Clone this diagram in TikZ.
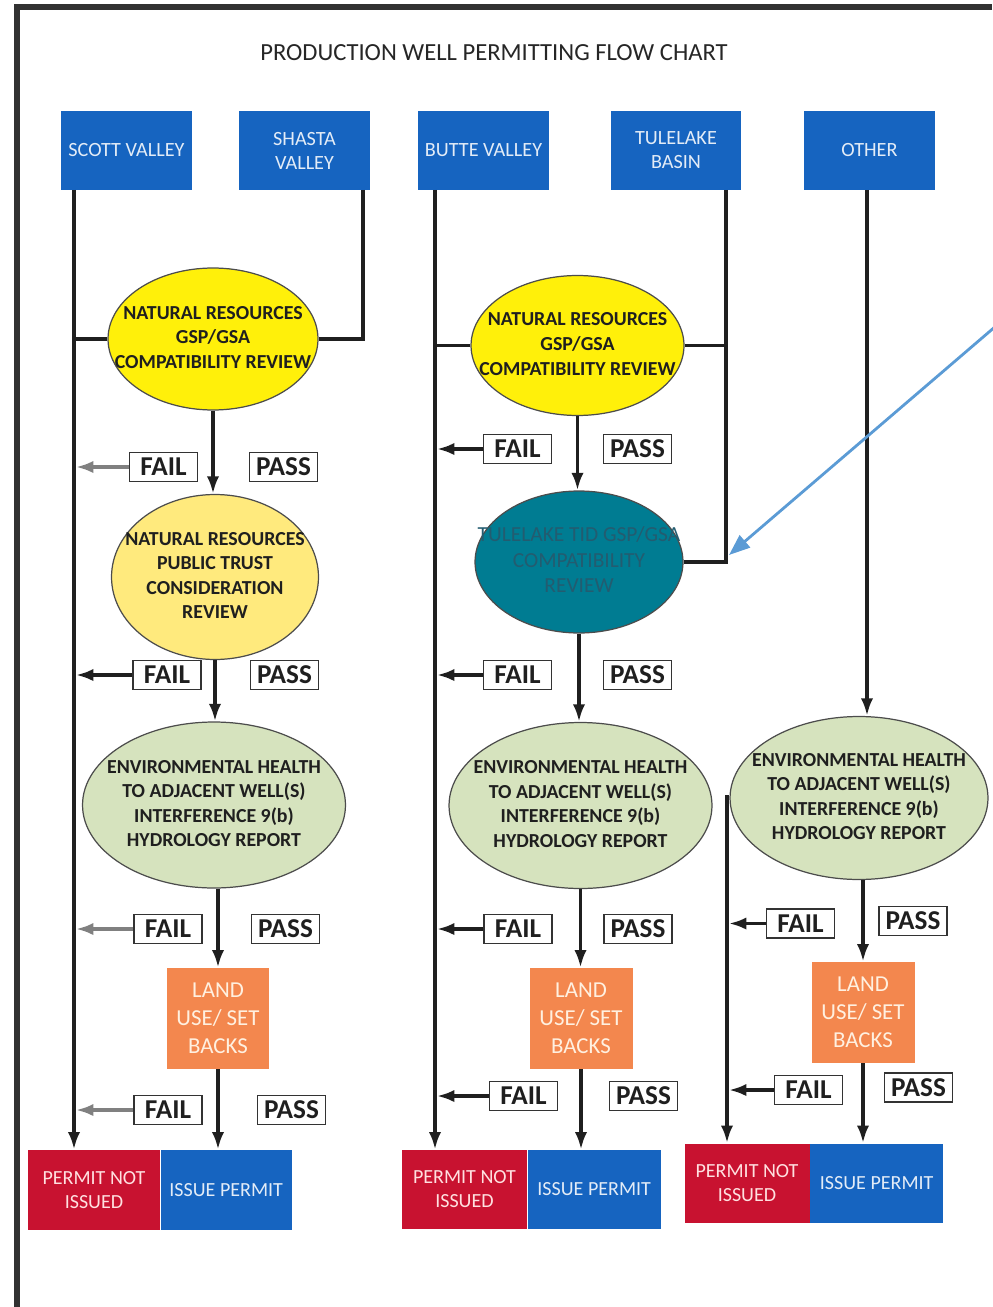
\documentclass[tikz,border=0pt]{standalone}
\usepackage{fontspec}
\setmainfont{Carlito}
\usetikzlibrary{arrows.meta, shapes.geometric}

\definecolor{regionblue}{RGB}{22,100,192}
\definecolor{permitred}{RGB}{200,18,48}
\definecolor{landorange}{RGB}{243,135,78}
\definecolor{nryellow}{RGB}{255,240,10}
\definecolor{ptyellow}{RGB}{255,234,125}
\definecolor{ehgreen}{RGB}{214,227,190}
\definecolor{tidteal}{RGB}{0,124,146}
\definecolor{tidtext}{RGB}{35,92,112}
\definecolor{noteblue}{RGB}{91,155,213}
\definecolor{framegray}{RGB}{50,50,50}

\newcommand{\elltext}[1]{\makebox[0pt]{\begin{tabular}{@{}c@{}}#1\end{tabular}}}

\tikzset{
  region/.style={fill=regionblue, text=white!88!regionblue, minimum width=2.62cm, minimum height=1.58cm, inner sep=0pt, align=center, font=\fontsize{11.5}{13.6}\selectfont},
  review/.style={ellipse, draw=black!70, line width=0.7pt, inner sep=0pt, text=black!88, font=\fontsize{11.3}{14}\selectfont\bfseries},
  landbox/.style={fill=landorange, text=orange!12!white, minimum width=2.06cm, minimum height=2.02cm, inner sep=0pt, align=center, font=\fontsize{13}{16}\selectfont},
  notissued/.style={fill=permitred, text=red!12!white, minimum width=2.5cm, minimum height=1.58cm, inner sep=0pt, align=center, font=\fontsize{11.4}{13.6}\selectfont},
  issued/.style={fill=regionblue, text=white!88!regionblue, minimum width=2.66cm, minimum height=1.58cm, inner sep=0pt, anchor=west, font=\fontsize{11.4}{13.6}\selectfont},
  verdict/.style={draw=black!80, line width=0.9pt, fill=white, minimum width=1.36cm, minimum height=0.58cm, inner sep=0pt, text=black!88, font=\fontsize{15.5}{16}\selectfont\bfseries},
  wire/.style={line width=2pt, black!88},
  flow/.style={wire, -{Latex[length=10pt,width=7pt]}},
  failflow/.style={flow, shorten >=1pt},
}

\begin{document}
\begin{tikzpicture}[x=0.02cm, y=-0.02cm]
\useasboundingbox (0,0) rectangle (992,1307);
%\draw[step=50,gray,very thin] (0,0) grid (992,1307);
\draw[framegray, line width=3pt] (992,7) -- (17,7) -- (17,1307);
\node[text=black!85, font=\fontsize{14}{16}\selectfont] (title) at (494,53) {PRODUCTION WELL PERMITTING FLOW CHART};

% basins
\node[region] (scott)  at (126.5,150.5) {SCOTT VALLEY};
\node[region] (shasta) at (304.5,150.5) {SHASTA\\VALLEY};
\node[region] (butte)  at (483.5,150.5) {BUTTE VALLEY};
\node[region] (tule)   at (676,150.5)   {TULELAKE\\BASIN};
\node[region] (other)  at (869.5,150.5) {OTHER};
\coordinate (scottline)  at (74,190);
\coordinate (shastaline) at (363,190);
\coordinate (butteline)  at (435,190);
\coordinate (tuleline)   at (726,190);
\coordinate (otherline)  at (867,190);
\coordinate (thirdline)  at (727,795);

% scott / shasta
\node[review, fill=nryellow, minimum width=4.2cm, minimum height=2.84cm] (nrA) at (213,339) {\elltext{NATURAL RESOURCES\\GSP/GSA\\COMPATIBILITY REVIEW}};
\node[review, fill=ptyellow, minimum width=4.14cm, minimum height=3.3cm] (ptA) at (215,577) {\elltext{NATURAL RESOURCES\\PUBLIC TRUST\\CONSIDERATION\\REVIEW}};
\node[review, fill=ehgreen, minimum width=5.26cm, minimum height=3.32cm] (ehA) at (214,805) {\elltext{ENVIRONMENTAL HEALTH\\TO ADJACENT WELL(S)\\INTERFERENCE 9(b)\\HYDROLOGY REPORT}};
\node[landbox] (landA) at (218,1018.5) {LAND\\USE/ SET\\BACKS};
\node[notissued, minimum width=2.64cm, minimum height=1.6cm] (pniA) at (94,1190) {PERMIT NOT\\ISSUED};
\node[issued, minimum width=2.62cm, minimum height=1.6cm] (ipA) at (pniA.east) {ISSUE PERMIT};
\node[verdict] (failA1) at (163.5,467) {FAIL};
\node[verdict] (passA1) at (283.5,467) {PASS};
\node[verdict] (failA2) at (167,675)   {FAIL};
\node[verdict] (passA2) at (284.5,675) {PASS};
\node[verdict] (failA3) at (168,929)   {FAIL};
\node[verdict] (passA3) at (285.5,929) {PASS};
\node[verdict] (failA4) at (168,1110)  {FAIL};
\node[verdict] (passA4) at (291.5,1110) {PASS};
\draw[flow] (scottline) -- (scottline |- pniA.north);
\draw[wire] (nrA.west) -- (nrA.west -| scottline);
\draw[wire] (shastaline) |- (nrA.east);
\draw[flow] (nrA.south) -- (nrA.south |- ptA.north);
\draw[flow] (ptA.south) -- (ptA.south |- ehA.north);
\draw[flow] (ehA.south -| landA.north) -- (landA.north);
\draw[flow] (landA.south) -- (landA.south |- ipA.north);
\draw[failflow, gray] (failA1.west) -- (failA1.west -| scottline);
\draw[failflow] (failA2.west) -- (failA2.west -| scottline);
\draw[failflow, gray] (failA3.west) -- (failA3.west -| scottline);
\draw[failflow, gray] (failA4.west) -- (failA4.west -| scottline);

% butte / tulelake
\node[review, fill=nryellow, minimum width=4.26cm, minimum height=2.8cm] (nrB) at (577.5,345.5) {\elltext{NATURAL RESOURCES\\GSP/GSA\\COMPATIBILITY REVIEW}};
\node[review, fill=tidteal, minimum width=4.16cm, minimum height=2.84cm, text=tidtext, font=\fontsize{12.2}{14.7}\selectfont] (tidB) at (579,562) {\elltext{TULELAKE TID GSP/GSA\\COMPATIBILITY\\REVIEW}};
\node[review, fill=ehgreen, minimum width=5.26cm, minimum height=3.32cm] (ehB) at (580.5,805.5) {\elltext{ENVIRONMENTAL HEALTH\\TO ADJACENT WELL(S)\\INTERFERENCE 9(b)\\HYDROLOGY REPORT}};
\node[landbox] (landB) at (581,1018.5) {LAND\\USE/ SET\\BACKS};
\node[notissued] (pniB) at (464.5,1189.5) {PERMIT NOT\\ISSUED};
\node[issued] (ipB) at (pniB.east) {ISSUE PERMIT};
\node[verdict] (failB1) at (517.5,449) {FAIL};
\node[verdict] (passB1) at (637.5,449) {PASS};
\node[verdict] (failB2) at (517.5,675) {FAIL};
\node[verdict] (passB2) at (637.5,675) {PASS};
\node[verdict] (failB3) at (518,929)   {FAIL};
\node[verdict] (passB3) at (638,929)   {PASS};
\node[verdict] (failB4) at (523.5,1096) {FAIL};
\node[verdict] (passB4) at (643.5,1096) {PASS};
\draw[flow] (butteline) -- (butteline |- pniB.north);
\draw[wire] (nrB.west) -- (nrB.west -| butteline);
\draw[wire] (nrB.east) -- (nrB.east -| tuleline);
\draw[wire] (tuleline) |- (tidB.east);
\draw[flow] (nrB.south) -- (nrB.south |- tidB.north);
\draw[flow] (tidB.south) -- (tidB.south |- ehB.north);
\draw[flow] (ehB.south) -- (ehB.south |- landB.north);
\draw[flow] (landB.south) -- (landB.south |- ipB.north);
\draw[failflow] (failB1.west) -- (failB1.west -| butteline);
\draw[failflow] (failB2.west) -- (failB2.west -| butteline);
\draw[failflow] (failB3.west) -- (failB3.west -| butteline);
\draw[failflow] (failB4.west) -- (failB4.west -| butteline);

% other
\node[review, fill=ehgreen, minimum width=5.16cm, minimum height=3.26cm] (ehC) at (859,798) {\elltext{ENVIRONMENTAL HEALTH\\TO ADJACENT WELL(S)\\INTERFERENCE 9(b)\\HYDROLOGY REPORT}};
\node[landbox] (landC) at (863,1012.5) {LAND\\USE/ SET\\BACKS};
\node[notissued] (pniC) at (747,1183) {PERMIT NOT\\ISSUED};
\node[issued] (ipC) at (pniC.east) {ISSUE PERMIT};
\node[verdict] (failC3) at (800.5,923.5) {FAIL};
\node[verdict] (passC3) at (913,921)     {PASS};
\node[verdict] (failC4) at (808.5,1090)  {FAIL};
\node[verdict] (passC4) at (918.5,1087.5) {PASS};
\draw[flow] (otherline) -- (otherline |- ehC.north);
\draw[flow] (ehC.south -| landC.north) -- (landC.north);
\draw[flow] (landC.south) -- (landC.south |- ipC.north);
\draw[flow] (thirdline) -- (thirdline |- pniC.north);
\draw[failflow] (failC3.west) -- (failC3.west -| thirdline);
\draw[failflow] (failC4.west) -- (failC4.west -| thirdline);

% pointer to the TID review
\coordinate (notestart) at (996,326);
\coordinate (notetip) at (729,555);
\draw[noteblue, line width=1.6pt, -{Triangle[length=12pt,width=9pt]}] (notestart) -- (notetip);
\end{tikzpicture}
\end{document}
